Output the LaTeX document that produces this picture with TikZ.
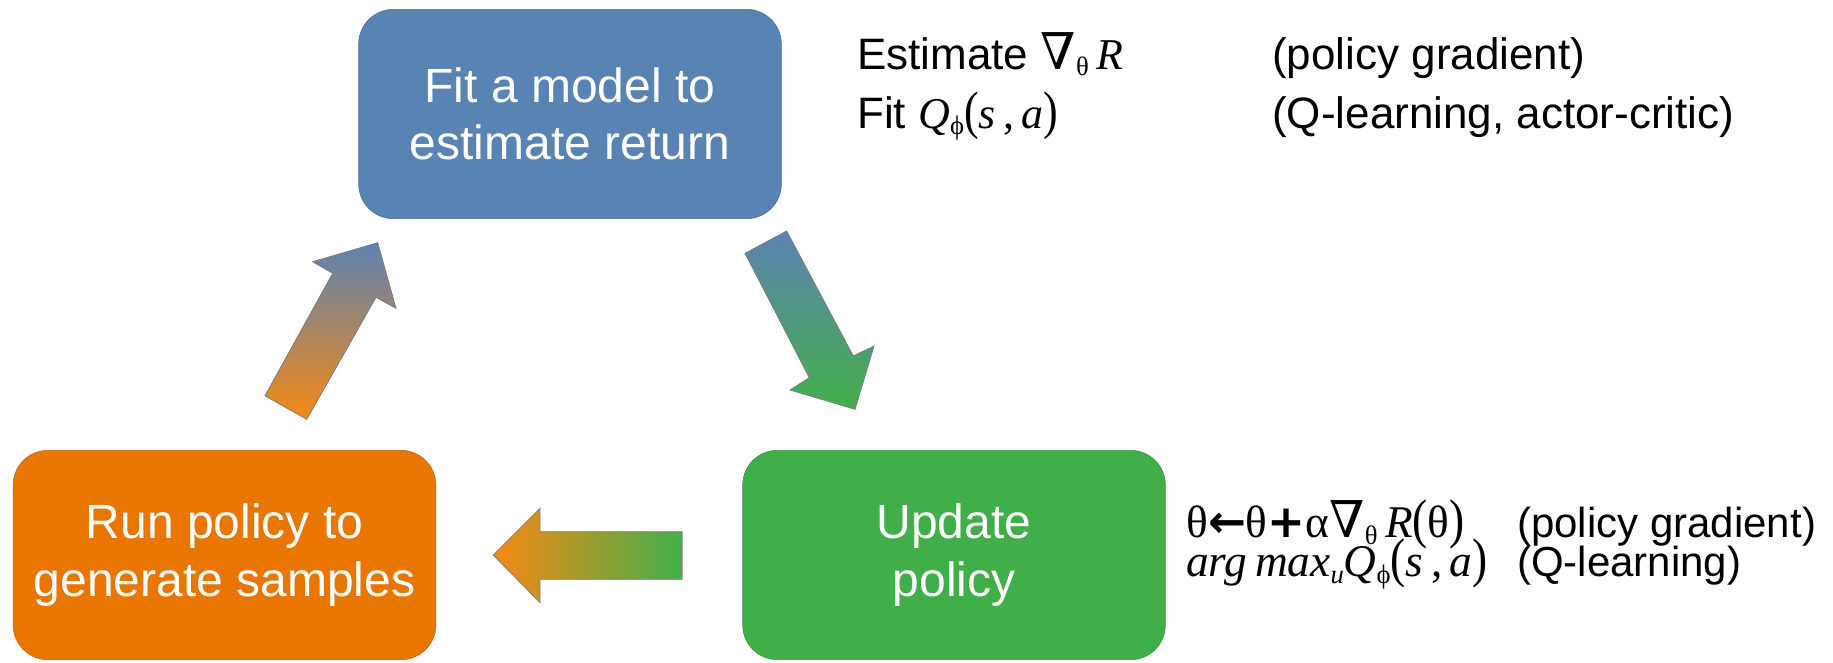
\documentclass[tikz,border=0pt]{standalone}
\usepackage{graphicx}
\usepackage{fontspec}
\setmainfont{Liberation Sans}
\newfontfamily\tnr{Liberation Serif}
\newfontfamily\djv{DejaVu Serif}
\newfontfamily\djs{DejaVu Sans}
\usepackage{tikz}

\definecolor{fitblue}{RGB}{88,131,178}
\definecolor{fitblueline}{RGB}{68,108,158}
\definecolor{runorange}{RGB}{232,118,0}
\definecolor{runorangeline}{RGB}{200,100,10}
\definecolor{updgreen}{RGB}{64,174,73}
\definecolor{updgreenline}{RGB}{50,150,60}
\definecolor{arrorange}{RGB}{247,137,20}
\definecolor{arrblue}{RGB}{92,130,178}
\definecolor{arrgreen}{RGB}{66,176,74}
\definecolor{arrline}{RGB}{125,125,125}

\newcommand{\mi}[1]{{\tnr\itshape #1}}
\newcommand{\up}[1]{{\tnr #1}}
\newcommand{\nab}{{\djv\fontsize{38}{38}\selectfont ∇}}
\newcommand{\lowsub}[1]{\raisebox{-0.3ex}{\fontsize{20}{20}\selectfont #1}}
\newcommand{\lpar}{\scalebox{1}[1.2]{\tnr(}}
\newcommand{\rpar}{\scalebox{1}[1.2]{\tnr)}}

\tikzset{
  stepbox/.style={rounded corners=26pt, minimum width=317pt, minimum height=157pt,
    inner sep=0pt, align=center, text=white, font=\fontsize{36}{43}\selectfont},
  note/.style={anchor=base west, inner sep=0pt, font=\fontsize{33}{36}\selectfont},
  blockarrow/.style={draw=arrline, line width=0.6pt}
}

\begin{document}
\begin{tikzpicture}[x=0.75pt,y=0.75pt,yscale=-1,xscale=1]
\useasboundingbox (0,0) rectangle (1833,662);

%Shape: Rounded Rect
\node[stepbox, fill=fitblue, draw=fitblueline] (fit) at (570,114) {Fit a model to\\estimate return};
%Shape: Rounded Rect
\node[stepbox, fill=updgreen, draw=updgreenline] (upd) at (954,555) {Update\\policy};
%Shape: Rounded Rect
\node[stepbox, fill=runorange, draw=runorangeline] (run) at (224.5,555) {Run policy to\\generate samples};

%Shape: Up Arrow
\shadedraw[blockarrow, bottom color=arrorange, top color=arrblue]
  (265,395.7) -- (306.7,419.3) -- (376,297.3) -- (396,308.3) -- (377.7,242.7) -- (312.7,261.7) -- (332.7,273.3) -- cycle;
%Shape: Down Arrow
\shadedraw[blockarrow, top color=arrblue, bottom color=arrgreen]
  (745,253.3) -- (786.7,231) -- (853.3,356) -- (874,346) -- (855,409.3) -- (790,390) -- (809.3,377.7) -- cycle;
%Shape: Left Arrow
\shadedraw[blockarrow, left color=arrorange, right color=arrgreen]
  (493.3,555) -- (540,508.3) -- (540,531.7) -- (682.3,531.7) -- (682.3,579.3) -- (540,579.3) -- (540,602.7) -- cycle;

% Text Node
\node[note] (estgrad) at (857,69) {Estimate \nab\lowsub{\up{θ}}\,\mi{R}};
% Text Node
\node[note] (fitq) at (857,128) {Fit \mi{Q}\lowsub{\up{ϕ}}\lpar\mi{s}\,\up{,}\,\mi{a}\rpar};
% Text Node
\node[note] (pgtop) at (1272,69) {(policy gradient)};
% Text Node
\node[note] (qac) at (1272,128) {(Q-learning, actor-critic)};

% Text Node
\node[note, font=\fontsize{34}{36}\selectfont] (updrule) at (1186,537)
  {\up{θ}{\djs\bfseries ←}\up{θ}{\djs\bfseries +}\up{α}\nab\lowsub{\up{θ}}\,\mi{R}\lpar\up{θ}\rpar};
% Text Node
\node[note, font=\fontsize{34}{36}\selectfont] (argq) at (1186,576)
  {\mi{arg\,max}\lowsub{\mi{u}}\mi{Q}\lowsub{\up{ϕ}}\lpar\mi{s}\,\up{,}\,\mi{a}\rpar};
% Text Node
\node[note, font=\fontsize{31.5}{36}\selectfont] (pgbot) at (1517,537) {(policy gradient)};
% Text Node
\node[note, font=\fontsize{31.5}{36}\selectfont] (qlearn) at (1517,576) {(Q-learning)};

\end{tikzpicture}
\end{document}
